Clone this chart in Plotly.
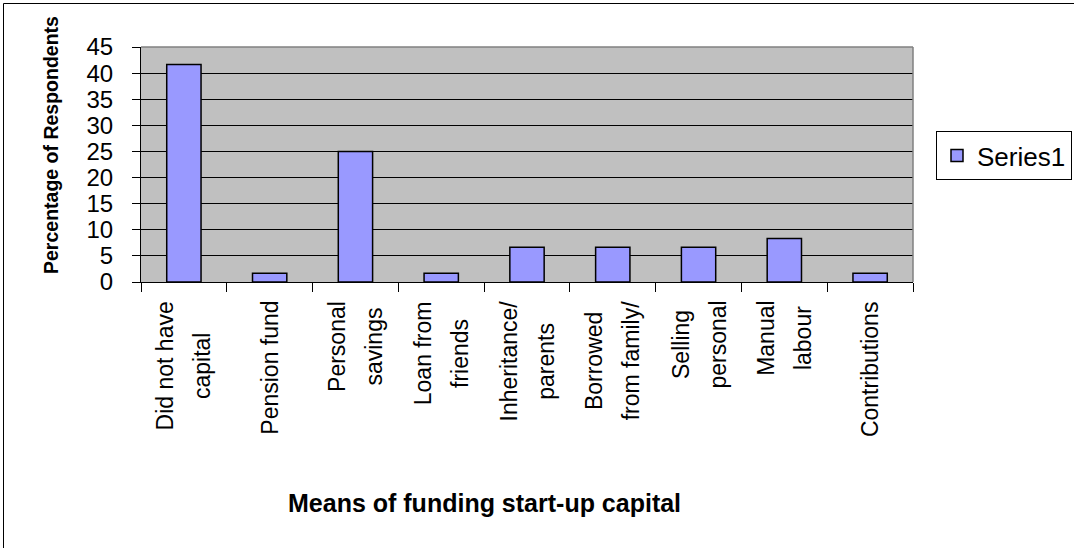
import plotly.graph_objects as go

# Survey results: how respondents funded their start-up capital (n = 60)
categories = [
    "Did not have capital",
    "Pension fund",
    "Personal savings",
    "Loan from friends",
    "Inheritance/ parents",
    "Borrowed from family/",
    "Selling personal",
    "Manual labour",
    "Contributions",
]
tick_labels = [
    ["Did not have", "capital"],
    ["Pension fund"],
    ["Personal", "savings"],
    ["Loan from", "friends"],
    ["Inheritance/", "parents"],
    ["Borrowed", "from family/"],
    ["Selling", "personal"],
    ["Manual", "labour"],
    ["Contributions"],
]
percent_respondents = [41.67, 1.67, 25.0, 1.67, 6.67, 6.67, 6.67, 8.33, 1.67]
y_ticks = [0, 5, 10, 15, 20, 25, 30, 35, 40, 45]

FONT = "Liberation Sans, Arial, sans-serif"
W, H = 1074, 548
L, R, T, B = 141, 161, 47, 266
plot_w, plot_h = W - L - R, H - T - B
LABEL_SIZE = 23
LABEL_LINE_GAP = 37  # distance between wrapped label lines


def px_x(px):
    return (px - L) / plot_w


def px_y(py):
    return (H - B - py) / plot_h


fig = go.Figure()
fig.add_trace(go.Bar(
    x=categories,
    y=percent_respondents,
    name="Series1",
    marker=dict(color="#9999FF", line=dict(color="black", width=1.5)),
))

annotations = []
for cat, lines in zip(categories, tick_labels):
    # outer font size sets the line pitch, inner spans set the glyph size
    text = "<br>".join(
        f"<span style='font-size:{LABEL_SIZE}px'>{ln}</span>" for ln in lines
    )
    annotations.append(dict(
        x=cat, xref="x", y=px_y(299), yref="paper",
        text=text, textangle=-90, showarrow=False,
        xanchor="center", yanchor="top", align="center",
        font=dict(family=FONT, size=LABEL_LINE_GAP / 1.3, color="black"),
    ))

annotations.append(dict(
    x=px_x(484), xref="paper", y=px_y(503), yref="paper",
    text="<b>Means of funding start-up capital</b>", showarrow=False,
    xanchor="center", yanchor="middle",
    font=dict(family=FONT, size=25, color="black"),
))
annotations.append(dict(
    x=px_x(51), xref="paper", y=px_y(145), yref="paper",
    text="<b>Percentage of Respondents</b>", textangle=-90, showarrow=False,
    xanchor="center", yanchor="middle",
    font=dict(family=FONT, size=19.5, color="black"),
))

shapes = [
    # outer chart frame
    dict(type="rect", xref="paper", yref="paper",
         x0=px_x(3.5), x1=px_x(W + 20), y0=px_y(3.5), y1=px_y(H + 20),
         line=dict(color="black", width=1), fillcolor="rgba(0,0,0,0)", layer="below"),
    # plot area border (top and right)
    dict(type="line", xref="paper", yref="paper", x0=0, x1=1, y0=1, y1=1,
         line=dict(color="#808080", width=1.5), layer="above"),
    dict(type="line", xref="paper", yref="paper", x0=1, x1=1, y0=0, y1=1,
         line=dict(color="#808080", width=1.5), layer="above"),
]

fig.update_layout(
    width=W, height=H,
    margin=dict(l=L, r=R, t=T, b=B, pad=0, autoexpand=False),
    paper_bgcolor="white",
    plot_bgcolor="#C0C0C0",
    bargap=0.6,
    font=dict(family=FONT, color="black"),
    showlegend=True,
    legend=dict(
        x=px_x(936), y=px_y(131), xanchor="left", yanchor="top",
        bgcolor="white", bordercolor="black", borderwidth=1,
        font=dict(family=FONT, size=26, color="black"),
    ),
    annotations=annotations,
    shapes=shapes,
)
fig.update_xaxes(
    type="category", showticklabels=False, showgrid=False,
    showline=True, linecolor="black", linewidth=1,
    ticks="outside", tickson="boundaries", ticklen=9, tickcolor="black", tickwidth=1,
    zeroline=False,
)
fig.update_yaxes(
    range=[0, 45], tickvals=y_ticks,
    showgrid=True, gridcolor="black", gridwidth=1,
    showline=True, linecolor="black", linewidth=1,
    ticks="outside", ticklen=8, tickcolor="black", tickwidth=1,
    ticklabelstandoff=14,
    tickfont=dict(family=FONT, size=24, color="black"),
    zeroline=False,
)

fig.write_html("out.html")
